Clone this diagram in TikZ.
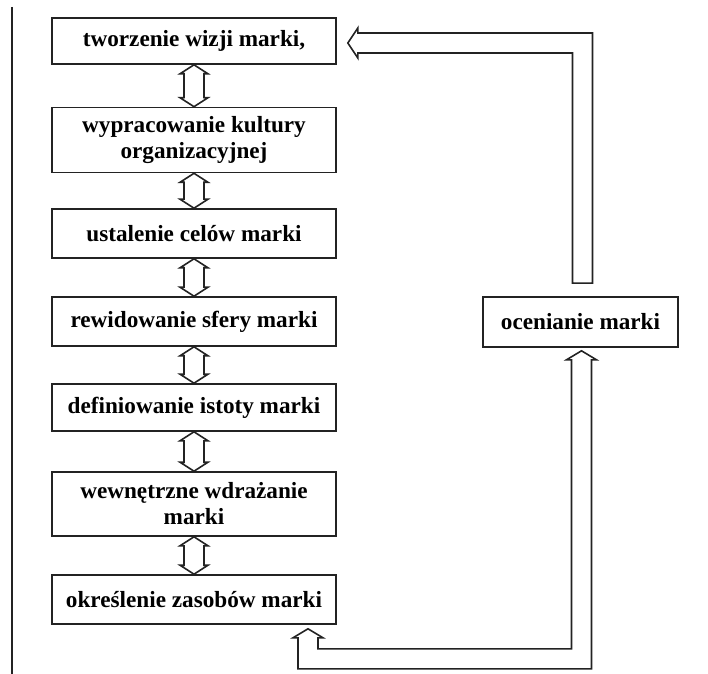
\documentclass[tikz,border=0pt]{standalone}
\usepackage{fontspec}
\setmainfont{Liberation Serif}
\usepackage{tikz}
\usetikzlibrary{calc}
\definecolor{markaLine}{RGB}{35, 35, 35}

\begin{document}
\begin{tikzpicture}[x=0.5pt, y=-0.5pt,
    etap/.style={draw=markaLine, line width=0.8pt, minimum width=142pt, inner sep=2pt,
                 align=center, font=\fontsize{11.6}{13}\selectfont\bfseries},
    blok/.style={draw=markaLine, line width=0.8pt, fill=white, line join=miter}]
\useasboundingbox (0,0) rectangle (708,674);

% margin line on the left
\draw[markaLine, line width=0.9pt] (12,7) -- (12,674);

% stages of the brand
\node[etap, minimum height=23pt] (wizja) at (194,41) {tworzenie wizji marki,};
\node[etap, minimum height=32.5pt] (kultura) at (194,140) {wypracowanie kultury\\organizacyjnej};
\node[etap, minimum height=24.5pt] (cele) at (194,233.5) {ustalenie celów marki};
\node[etap, minimum height=24.5pt] (sfera) at (194,321.5) {rewidowanie sfery marki};
\node[etap, minimum height=23.5pt] (istota) at (194,407.5) {definiowanie istoty marki};
\node[etap, minimum height=32pt] (wdrazanie) at (194,504) {wewnętrzne wdrażanie\\marki};
\node[etap, minimum height=24.5pt] (zasoby) at (194,599.5) {określenie zasobów marki};
\node[etap, minimum width=97.5pt, minimum height=25pt] (ocena) at (580.5,322) {ocenianie marki};

% hollow double arrows between the stages
\foreach \a/\b in {wizja/kultura, kultura/cele, cele/sfera, sfera/istota,
                   istota/wdrazanie, wdrazanie/zasoby}{
  \draw[blok] (\a.south) -- ($(\a.south)+(7pt,-4.5pt)$) -- ($(\a.south)+(5pt,-4.5pt)$)
    -- ($(\b.north)+(5pt,4.5pt)$) -- ($(\b.north)+(7pt,4.5pt)$) -- (\b.north)
    -- ($(\b.north)+(-7pt,4.5pt)$) -- ($(\b.north)+(-5pt,4.5pt)$)
    -- ($(\a.south)+(-5pt,-4.5pt)$) -- ($(\a.south)+(-7pt,-4.5pt)$) -- cycle;
}

% feedback loop: zasoby <-> ocena
\coordinate (dolL) at ($(zasoby.south)+(57pt,-2pt)$);
\coordinate (dolP) at ($(ocena.south)+(0.5pt,-1.5pt)$);
\coordinate (dolIn) at ($(dolP)+(-5pt,0)$);
\coordinate (dolOut) at ($(dolP)+(5pt,0)$);
\coordinate (dolY1) at ($(dolL)+(0,-10pt)$);
\coordinate (dolY2) at ($(dolL)+(0,-20pt)$);
\draw[blok] (dolL) -- ($(dolL)+(7.5pt,-4.5pt)$) -- ($(dolL)+(5pt,-4.5pt)$)
  -- ($(dolL)+(5pt,-10pt)$) -- (dolIn |- dolY1)
  -- ($(dolP)+(-5pt,-4.5pt)$) -- ($(dolP)+(-7.5pt,-4.5pt)$) -- (dolP)
  -- ($(dolP)+(7.5pt,-4.5pt)$) -- ($(dolP)+(5pt,-4.5pt)$)
  -- (dolOut |- dolY2) -- ($(dolL)+(-5pt,-20pt)$)
  -- ($(dolL)+(-5pt,-4.5pt)$) -- ($(dolL)+(-7.5pt,-4.5pt)$) -- cycle;

% return: ocena -> wizja
\coordinate (gora) at ($(ocena.north)+(1pt,6.5pt)$);
\coordinate (grot) at ($(wizja.east)+(5.5pt,-1pt)$);
\coordinate (goraL) at ($(gora)+(-5pt,0)$);
\coordinate (goraP) at ($(gora)+(5pt,0)$);
\coordinate (grotD) at ($(grot)+(0,-5pt)$);
\coordinate (grotG) at ($(grot)+(0,5pt)$);
\draw[blok] (goraL) -- (goraL |- grotD)
  -- ($(grot)+(5pt,-5pt)$) -- ($(grot)+(5pt,-7.5pt)$) -- (grot)
  -- ($(grot)+(5pt,7.5pt)$) -- ($(grot)+(5pt,5pt)$)
  -- (goraP |- grotG) -- (goraP) -- cycle;
\end{tikzpicture}
\end{document}
